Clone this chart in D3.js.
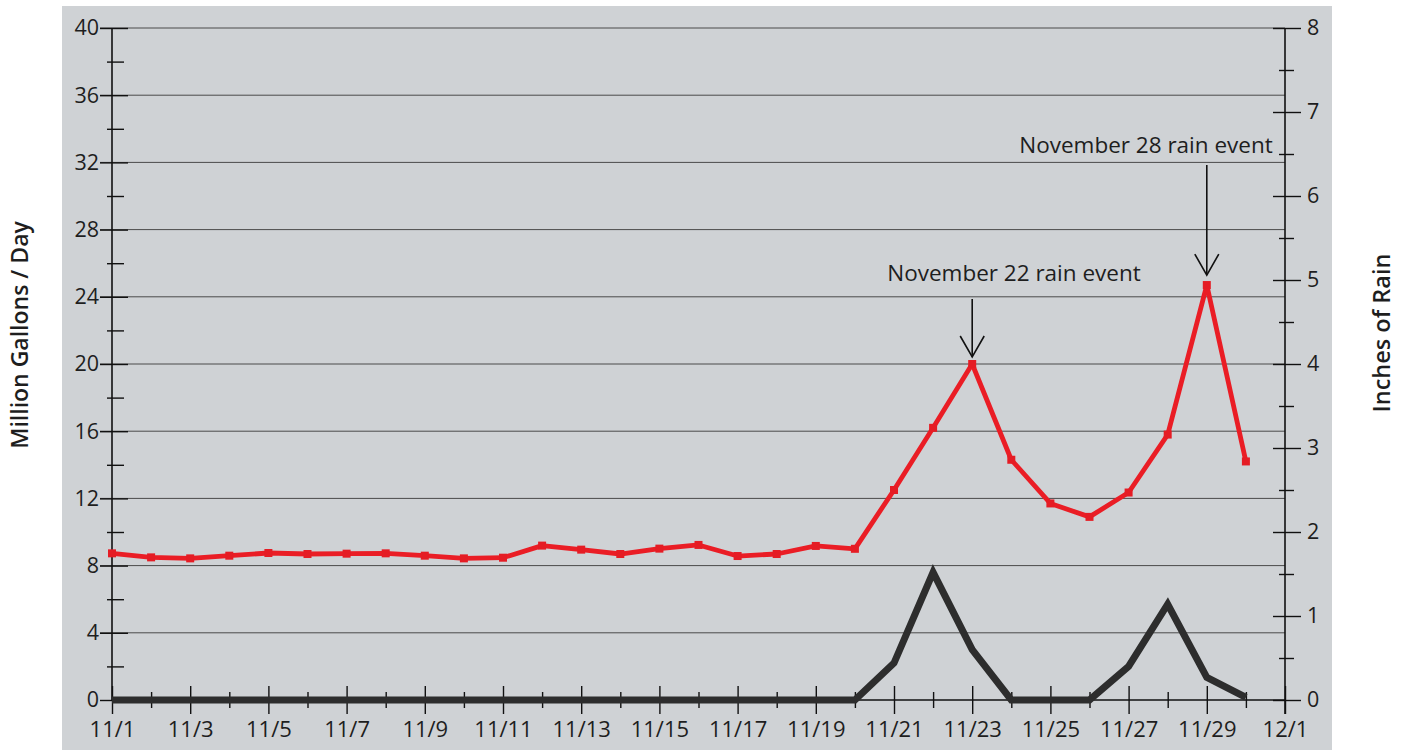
<!DOCTYPE html>
<html>
<head>
<meta charset="utf-8">
<script src="https://cdn.jsdelivr.net/npm/d3@7/dist/d3.min.js"></script>
<style>
  html, body { margin: 0; padding: 0; background: #ffffff; }
  svg { display: block; }
  text { font-family: "Open Sans", "DejaVu Sans", sans-serif; fill: #1e1e1e; }
</style>
</head>
<body>
<svg id="chart" width="1404" height="753"></svg>
<script>
// Daily flow (million gallons / day) for 11/1 .. 11/30
const dayNumbers = d3.range(1, 31);
const flowMGD = [8.73, 8.49, 8.43, 8.59, 8.75, 8.69, 8.71, 8.73, 8.59, 8.43,
                 8.47, 9.19, 8.95, 8.69, 9.01, 9.23, 8.57, 8.69, 9.17, 9.00,
                 12.5, 16.2, 20.0, 14.3, 11.7, 10.9, 12.35, 15.8, 24.7, 14.2];
// Daily rainfall (inches) for 11/1 .. 11/30
const rainInches = [0, 0, 0, 0, 0, 0, 0, 0, 0, 0,
                    0, 0, 0, 0, 0, 0, 0, 0, 0, 0,
                    0.44, 1.52, 0.60, 0, 0, 0, 0.40, 1.14, 0.27, 0.03];
// Axis ticks and labels
const xMajorDays = [1, 3, 5, 7, 9, 11, 13, 15, 17, 19, 21, 23, 25, 27, 29, 31];
const xTickLabels = ["11/1", "11/3", "11/5", "11/7", "11/9", "11/11", "11/13", "11/15",
                     "11/17", "11/19", "11/21", "11/23", "11/25", "11/27", "11/29", "12/1"];
const xMinorDays = [2, 4, 6, 8, 10, 12, 14, 16, 18, 20, 22, 24, 26, 28, 30];
const flowTicks = [0, 4, 8, 12, 16, 20, 24, 28, 32, 36, 40];
const flowMinorTicks = [2, 6, 10, 14, 18, 22, 26, 30, 34, 38];
const rainTicks = [0, 1, 2, 3, 4, 5, 6, 7, 8];
const rainMinorTicks = [0.5, 1.5, 2.5, 3.5, 4.5, 5.5, 6.5, 7.5];
// Event callouts: day index and text
const eventDays = [23, 29];
const eventLabels = ["November 22 rain event", "November 28 rain event"];

const svg = d3.select("#chart");

const plotLeft = 112, plotRight = 1285, plotTop = 28, plotBottom = 700;

const x = d3.scaleLinear().domain([1, 31]).range([plotLeft, plotRight]);
const yFlow = d3.scaleLinear().domain([0, 40]).range([plotBottom, plotTop]);
const yRain = d3.scaleLinear().domain([0, 8]).range([plotBottom, plotTop]);

// panel background
svg.append("rect")
  .attr("x", 62).attr("y", 6).attr("width", 1270).attr("height", 744)
  .attr("fill", "#cfd2d5");

// horizontal gridlines
svg.append("g")
  .selectAll("line")
  .data(flowTicks.filter(d => d > 0))
  .join("line")
  .attr("x1", plotLeft - 12).attr("x2", plotRight)
  .attr("y1", d => yFlow(d)).attr("y2", d => yFlow(d))
  .attr("stroke", "#4a4a4a").attr("stroke-width", 1);

function styleAxis(g) {
  g.select(".domain").remove();
  g.selectAll(".tick line").attr("stroke", "#111").attr("stroke-width", 1.4);
  g.selectAll(".tick text").attr("fill", "#1e1e1e");
}

// left axis: labels + tick marks crossing the spine
svg.append("g")
  .attr("transform", `translate(${plotLeft},0)`)
  .call(d3.axisLeft(yFlow).tickValues(flowTicks).tickSize(12).tickPadding(1))
  .call(styleAxis)
  .call(g => g.selectAll(".tick text").style("font-size", "21.5px"));
svg.append("g")
  .attr("transform", `translate(${plotLeft},0)`)
  .call(d3.axisRight(yFlow).tickValues(flowTicks).tickSize(16).tickFormat(""))
  .call(styleAxis);
svg.append("g")
  .attr("transform", `translate(${plotLeft - 5},0)`)
  .call(d3.axisRight(yFlow).tickValues(flowMinorTicks).tickSize(17).tickFormat(""))
  .call(styleAxis);

// right axis
svg.append("g")
  .attr("transform", `translate(${plotRight},0)`)
  .call(d3.axisRight(yRain).tickValues(rainTicks).tickSize(16).tickPadding(6))
  .call(styleAxis)
  .call(g => g.selectAll(".tick text").style("font-size", "21.5px"));
svg.append("g")
  .attr("transform", `translate(${plotRight},0)`)
  .call(d3.axisLeft(yRain).tickValues(rainTicks).tickSize(12).tickFormat(""))
  .call(styleAxis);
svg.append("g")
  .attr("transform", `translate(${plotRight - 6},0)`)
  .call(d3.axisRight(yRain).tickValues(rainMinorTicks).tickSize(15).tickFormat(""))
  .call(styleAxis);

// spines
svg.append("line").attr("x1", plotLeft).attr("x2", plotLeft).attr("y1", plotTop).attr("y2", plotBottom)
  .attr("stroke", "#111").attr("stroke-width", 1.6);
svg.append("line").attr("x1", plotRight).attr("x2", plotRight).attr("y1", plotTop).attr("y2", plotBottom + 14)
  .attr("stroke", "#111").attr("stroke-width", 1.6);
svg.append("line").attr("x1", plotLeft).attr("x2", plotRight).attr("y1", plotBottom).attr("y2", plotBottom)
  .attr("stroke", "#111").attr("stroke-width", 1.4);

// x axis
const xLabel = d3.scaleOrdinal().domain(xMajorDays).range(xTickLabels);
svg.append("g")
  .attr("transform", `translate(0,${plotBottom - 14})`)
  .call(d3.axisBottom(x).tickValues(xMajorDays).tickSize(28).tickPadding(7).tickFormat(d => xLabel(d)))
  .call(styleAxis)
  .call(g => g.selectAll(".tick text").style("font-size", "22px"));
svg.append("g")
  .attr("transform", `translate(0,${plotBottom - 8})`)
  .call(d3.axisBottom(x).tickValues(xMinorDays).tickSize(16).tickFormat(""))
  .call(styleAxis);

// rainfall line
const rainLine = d3.line().x((d, i) => x(dayNumbers[i])).y(d => yRain(d));
svg.append("path")
  .datum(rainInches)
  .attr("d", rainLine)
  .attr("fill", "none")
  .attr("stroke", "#2d2d2d")
  .attr("stroke-width", 7)
  .attr("stroke-linejoin", "miter");

// flow line with square markers
const flowLine = d3.line().x((d, i) => x(dayNumbers[i])).y(d => yFlow(d));
svg.append("path")
  .datum(flowMGD)
  .attr("d", flowLine)
  .attr("fill", "none")
  .attr("stroke", "#ea1d25")
  .attr("stroke-width", 4.8)
  .attr("stroke-linejoin", "round");
svg.append("g")
  .selectAll("rect")
  .data(flowMGD)
  .join("rect")
  .attr("x", (d, i) => x(dayNumbers[i]) - 4)
  .attr("y", d => yFlow(d) - 4)
  .attr("width", 8).attr("height", 8)
  .attr("fill", "#e51c24");

// event callouts with arrows
const calloutGap = [7, 10];
const shaftLen = [58, 110];
const labelLift = [18, 12];
eventDays.forEach((day, k) => {
  const ax = x(day);
  const tipY = yFlow(flowMGD[day - 1]) - calloutGap[k];
  const topY = tipY - shaftLen[k];
  const g = svg.append("g");
  g.append("line").attr("x1", ax).attr("x2", ax).attr("y1", topY).attr("y2", tipY)
    .attr("stroke", "#111").attr("stroke-width", 1.6);
  g.append("path")
    .attr("d", `M${ax - 12},${tipY - 21} L${ax},${tipY} L${ax + 12},${tipY - 21}`)
    .attr("fill", "none").attr("stroke", "#111").attr("stroke-width", 1.6);
  g.append("text")
    .attr("x", k === 0 ? 1014 : 1146)
    .attr("y", topY - labelLift[k])
    .attr("text-anchor", "middle")
    .style("font-size", "22.5px")
    .text(eventLabels[k]);
});

// axis titles
svg.append("text")
  .attr("transform", "translate(28,335) rotate(-90)")
  .attr("text-anchor", "middle")
  .style("font-size", "23px").style("font-weight", "600")
  .text("Million Gallons / Day");
svg.append("text")
  .attr("transform", "translate(1390,333) rotate(-90)")
  .attr("text-anchor", "middle")
  .style("font-size", "23.5px").style("font-weight", "600")
  .text("Inches of Rain");
</script>
</body>
</html>
